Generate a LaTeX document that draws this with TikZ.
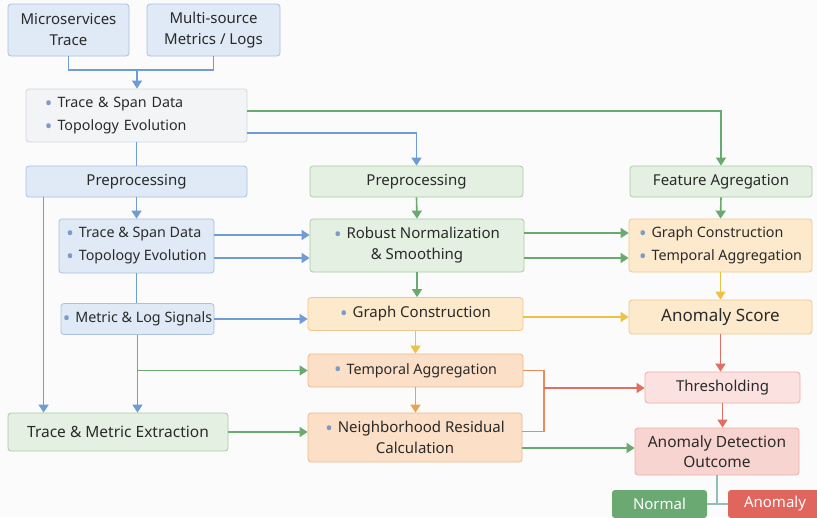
\documentclass[tikz,border=0pt]{standalone}
\usepackage{fontspec}
\setmainfont{Noto Sans}
\usetikzlibrary{arrows.meta,calc}
\definecolor{bgc}{HTML}{FBFBFB}
\definecolor{txt}{HTML}{2A2A2A}
\definecolor{bluefill}{HTML}{DFEAF6}
\definecolor{blueedge}{HTML}{A9C1DE}
\definecolor{bluearr}{HTML}{6F9BD6}
\definecolor{grayfill}{HTML}{F3F4F6}
\definecolor{grayedge}{HTML}{D3D6DA}
\definecolor{greenfill}{HTML}{E4F0E2}
\definecolor{greenedge}{HTML}{AACAA6}
\definecolor{greenarr}{HTML}{6AAA6F}
\definecolor{yelfill}{HTML}{FDE9CC}
\definecolor{yeledge}{HTML}{EFC98C}
\definecolor{yelarr}{HTML}{EDC143}
\definecolor{orfill}{HTML}{FBDFC6}
\definecolor{oredge}{HTML}{EDB98C}
\definecolor{orarr}{HTML}{E9A24E}
\definecolor{orline}{HTML}{E98C5C}
\definecolor{redfill}{HTML}{FBE1DF}
\definecolor{redfill2}{HTML}{F8D4D0}
\definecolor{rededge}{HTML}{EAB0AB}
\definecolor{redarr}{HTML}{DF6F63}
\definecolor{normfill}{HTML}{6AAA72}
\definecolor{anomfill}{HTML}{E0655C}
\definecolor{bul}{HTML}{7A9CC8}
\definecolor{stem}{HTML}{8FBFB5}
\newcommand{\bu}{\raisebox{-2.6pt}{\color{bul}\fontsize{20}{20}\selectfont\textbullet}\hspace{5pt}}
\tikzset{
  box/.style={draw, rounded corners=3pt, line width=0.8pt, inner sep=0pt, align=center, text=txt, font=\fontsize{15}{21}\selectfont},
  bluebox/.style={box, fill=bluefill, draw=blueedge},
  graybox/.style={box, fill=grayfill, draw=grayedge},
  greenbox/.style={box, fill=greenfill, draw=greenedge},
  yelbox/.style={box, fill=yelfill, draw=yeledge},
  orbox/.style={box, fill=orfill, draw=oredge},
  redbox/.style={box, fill=redfill, draw=rededge},
  redbox2/.style={box, fill=redfill2, draw=rededge},
  tagbox/.style={rounded corners=3pt, inner sep=0pt, text=white, font=\fontsize{15}{17}\selectfont},
  bfont/.style={font=\fontsize{14.3}{23}\selectfont},
  arr/.style={-{Triangle[length=8pt,width=10pt]}},
  bl/.style={draw=bluearr, line width=1.6pt},
  gr/.style={draw=greenarr, line width=1.6pt},
  yl/.style={draw=yelarr, line width=1.6pt},
  orl/.style={draw=orline, line width=1.6pt},
  ora/.style={draw=orarr, line width=1.6pt},
  rd/.style={draw=redarr, line width=1.6pt},
}
\begin{document}
\begin{tikzpicture}[x=1pt,y=-1pt]
\fill[bgc] (0,0) rectangle (817,517);
\useasboundingbox (0,0) rectangle (817,517);

% nodes
\node[bluebox, minimum width=121pt, minimum height=52pt] (ms) at (68.5,30) {Microservices\\Trace};
\node[bluebox, minimum width=133pt, minimum height=52pt] (mm) at (213.5,30) {Multi-source\\Metrics / Logs};
\node[graybox, bfont, minimum width=221pt, minimum height=53pt, text width=183pt, align=left] (td) at (136.5,115.5) {\bu Trace \& Span Data\\\bu Topology Evolution};
\node[bluebox, minimum width=221pt, minimum height=31pt] (ppl) at (136.5,181.5) {Preprocessing};
\node[greenbox, minimum width=213pt, minimum height=31pt] (ppm) at (416.5,181.5) {Preprocessing};
\node[greenbox, minimum width=182pt, minimum height=31pt] (fa) at (721,181.5) {Feature Agregation};
\node[bluebox, bfont, minimum width=155pt, minimum height=54pt, align=left] (td2) at (136.5,246) {\bu Trace \& Span Data\\\bu Topology Evolution};
\node[bluebox, bfont, minimum width=153pt, minimum height=31pt] (ml) at (137.5,319) {\bu Metric \& Log Signals};
\node[greenbox, minimum width=220pt, minimum height=38pt, font=\fontsize{15.5}{20}\selectfont] (tme) at (118,432) {Trace \& Metric Extraction};
\node[greenbox, minimum width=214pt, minimum height=53pt] (rn) at (417,245.5) {\bu Robust Normalization\\\& Smoothing};
\node[yelbox, minimum width=215pt, minimum height=33pt] (gc) at (415.5,314) {\bu Graph Construction};
\node[orbox, bfont, minimum width=215pt, minimum height=33pt] (ta) at (415.5,370.5) {\bu Temporal Aggregation};
\node[orbox, minimum width=214pt, minimum height=49pt] (nr) at (415,437.5) {\bu Neighborhood Residual\\Calculation};
\node[yelbox, bfont, minimum width=183pt, minimum height=53pt, align=left] (gt) at (720.5,245.5) {\bu Graph Construction\\\bu Temporal Aggregation};
\node[yelbox, minimum width=183pt, minimum height=34pt, font=\fontsize{17}{20}\selectfont] (as) at (720.5,317) {Anomaly Score};
\node[redbox, minimum width=155pt, minimum height=31pt] (th) at (722.5,387.5) {Thresholding};
\node[redbox2, minimum width=164pt, minimum height=47pt, font=\fontsize{15.5}{20}\selectfont] (ado) at (717,451.5) {Anomaly Detection\\Outcome};
\node[tagbox, fill=normfill, minimum width=95pt, minimum height=28pt] (nor) at (659.5,504) {Normal};
\node[tagbox, fill=anomfill, minimum width=94pt, minimum height=28pt] (ano) at (775,504) {Anomaly};

% top merge
\coordinate (j1) at (137,70);
\draw[bl] (ms.south) |- (j1) -| (mm.south);
\draw[bl,arr] (j1) -- (j1 |- td.north);

% from td
\draw[gr,arr] ($(td.east)+(0,-4.5)$) -| (fa.north);
\draw[bl,arr] ($(td.east)+(0,17.5)$) -| (ppm.north);
\draw[bl] (td.south) -- (ppl.north);

% left column
\draw[bl,arr] (ppl.south) -- (td2.north);
\draw[bl,arr] ($(ppl.south west)+(18,0)$) -- ($(tme.north west)+(36,0)$);
\draw[bl] (td2.south) -- (td2.south |- ml.north);
\draw[bl,arr] (ml.south) -- (ml.south |- tme.north);
\draw[gr,arr] (ml.south |- ta.west) -- (ta.west);
\draw[gr,arr] (tme.east) -- (tme.east -| nr.west);

% left to middle
\draw[bl,arr] ($(td2.east)+(0,-11)$) -- ($(td2.east -| rn.west)+(0,-11)$);
\draw[bl,arr] ($(td2.east)+(0,12)$) -- ($(td2.east -| rn.west)+(0,12)$);
\draw[bl,arr] (ml.east) -- (ml.east -| gc.west);

% middle column
\draw[gr,arr] (ppm.south) -- (rn.north);
\draw[gr,arr] (rn.south) -- (rn.south |- gc.north);
\draw[yl,arr] (gc.south) -- (gc.south |- ta.north);
\draw[ora,arr] (ta.south) -- (ta.south |- nr.north);

% middle to right
\draw[gr,arr] ($(rn.east)+(0,-12.5)$) -- ($(rn.east -| gt.west)+(0,-12.5)$);
\draw[gr,arr] ($(rn.east)+(0,12.5)$) -- ($(rn.east -| gt.west)+(0,12.5)$);
\draw[yl,arr] ($(gc.east)+(0,3)$) -- ($(gc.east -| as.west)+(0,3)$);
\coordinate (j2) at (544,388);
\draw[orl] (ta.east) -| (j2) |- ($(nr.east)+(0,-6)$);
\draw[rd,arr] (j2) -- (j2 -| th.west);
\draw[gr,arr] ($(nr.east)+(0,10.5)$) -- ($(nr.east -| ado.west)+(0,10.5)$);

% right column
\draw[gr,arr] (fa.south) -- (gt.north);
\draw[yl,arr] (gt.south) -- (as.north);
\draw[rd,arr] (as.south) -- (as.south |- th.north);
\draw[rd,arr] (th.south) -- (th.south |- ado.north);

% outcome split
\draw[draw=stem, line width=1.6pt] (ado.south) -- (ado.south |- nor.east);
\draw[draw=stem, line width=1.6pt] (nor.east) -- (ano.west);
\end{tikzpicture}
\end{document}
